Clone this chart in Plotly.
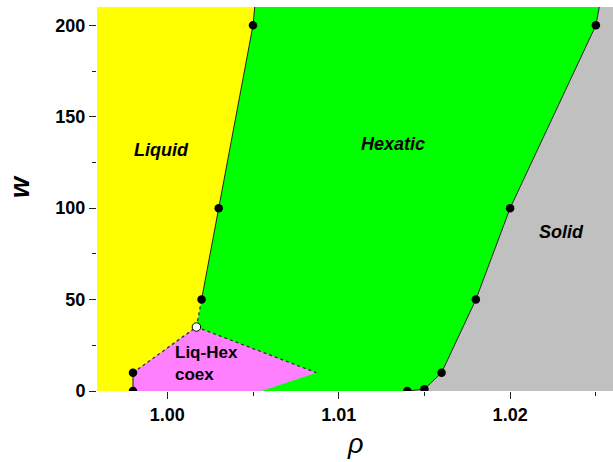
import plotly.graph_objects as go

# ---- data ----
# liquid / hexatic boundary (marked points)
liq_rho = [0.998, 0.998, 1.002, 1.003, 1.005]
liq_w = [0, 10, 50, 100, 200]
# coexistence end point (open circle)
coex_pt_rho = [1.0017]
coex_pt_w = [35]
# tip and lower end of the coexistence region
coex_tip_rho = [1.0087, 1.0055]
coex_tip_w = [10, 0]
# liquid boundary extended to the top edge
liq_top_rho = [1.0051]
# hexatic / solid boundary
sol_rho = [1.014, 1.015, 1.016, 1.018, 1.020, 1.025]
sol_w = [0, 1, 10, 50, 100, 200]
sol_top_rho = [1.0252]

X_RANGE = [0.9959, 1.026]
Y_RANGE = [0, 210]

YELLOW = "#ffff00"
GREEN = "#00ff00"
GREY = "#c0c0c0"
MAGENTA = "#ff80ff"

x0, x1 = X_RANGE
y0, y1 = Y_RANGE

# boundary of liquid phase (through coexistence end point)
liq_bx = [liq_rho[0], liq_rho[1], coex_pt_rho[0]] + liq_rho[2:] + liq_top_rho
liq_by = [liq_w[0], liq_w[1], coex_pt_w[0]] + liq_w[2:] + [y1]
sol_bx = sol_rho + sol_top_rho
sol_by = sol_w + [y1]

fig = go.Figure()

# yellow liquid region
fig.add_trace(go.Scatter(
    x=[x0] + liq_bx + [x0], y=[y0] + liq_by + [y1],
    fill="toself", fillcolor=YELLOW, line=dict(width=0), mode="lines",
    hoverinfo="skip", showlegend=False))
# green hexatic region
fig.add_trace(go.Scatter(
    x=liq_bx + sol_bx[::-1], y=liq_by + sol_by[::-1],
    fill="toself", fillcolor=GREEN, line=dict(width=0), mode="lines",
    hoverinfo="skip", showlegend=False))
# grey solid region
fig.add_trace(go.Scatter(
    x=sol_bx + [x1, x1], y=sol_by + [y1, y0],
    fill="toself", fillcolor=GREY, line=dict(width=0), mode="lines",
    hoverinfo="skip", showlegend=False))
# magenta coexistence region
fig.add_trace(go.Scatter(
    x=[liq_rho[0], liq_rho[1], coex_pt_rho[0]] + coex_tip_rho,
    y=[liq_w[0], liq_w[1], coex_pt_w[0]] + coex_tip_w,
    fill="toself", fillcolor=MAGENTA, line=dict(width=0), mode="lines",
    hoverinfo="skip", showlegend=False))

# solid boundary lines
fig.add_trace(go.Scatter(
    x=liq_rho[0:2], y=liq_w[0:2], mode="lines",
    line=dict(color="#333", width=1.2), showlegend=False, hoverinfo="skip"))
fig.add_trace(go.Scatter(
    x=liq_rho[2:] + liq_top_rho, y=liq_w[2:] + [y1], mode="lines",
    line=dict(color="#222", width=1), showlegend=False, hoverinfo="skip"))
fig.add_trace(go.Scatter(
    x=sol_bx, y=sol_by, mode="lines",
    line=dict(color="#222", width=1), showlegend=False, hoverinfo="skip"))
# dotted coexistence boundaries
fig.add_trace(go.Scatter(
    x=[liq_rho[1], coex_pt_rho[0], coex_tip_rho[0]],
    y=[liq_w[1], coex_pt_w[0], coex_tip_w[0]], mode="lines",
    line=dict(color="#333", width=1.3, dash="dot"), showlegend=False, hoverinfo="skip"))
fig.add_trace(go.Scatter(
    x=[coex_pt_rho[0], liq_rho[2]], y=[coex_pt_w[0], liq_w[2]], mode="lines",
    line=dict(color="#333", width=1.3, dash="dot"), showlegend=False, hoverinfo="skip"))

# markers
fig.add_trace(go.Scatter(
    x=liq_rho + sol_rho, y=liq_w + sol_w, mode="markers",
    marker=dict(color="black", size=8.5), showlegend=False))
fig.add_trace(go.Scatter(
    x=coex_pt_rho, y=coex_pt_w, mode="markers",
    marker=dict(color="white", size=8.5, line=dict(color="black", width=1)),
    showlegend=False))

lab_font = dict(family="Liberation Sans, Arial", size=18, color="black")
for txt, xx, yy in [("<b><i>Liquid</i></b>", 0.99965, 132),
                    ("<b><i>Hexatic</i></b>", 1.01315, 135),
                    ("<b><i>Solid</i></b>", 1.0230, 87)]:
    fig.add_annotation(x=xx, y=yy, text=txt, showarrow=False, font=lab_font,
                       xanchor="center", yanchor="middle")
fig.add_annotation(x=1.00035, y=15, text="<b>Liq-Hex<br>coex</b>", showarrow=False,
                   font=dict(family="Liberation Sans, Arial", size=17, color="black"),
                   xanchor="left", yanchor="middle", align="left")

# axis titles
fig.add_annotation(xref="paper", yref="paper", x=(20 - 97) / 516, y=(391 - 187) / 384,
                   text="<b><i>w</i></b>", textangle=-90, showarrow=False,
                   font=dict(family="Liberation Sans, Arial", size=27, color="black"),
                   xanchor="center", yanchor="middle")
fig.add_annotation(xref="paper", yref="paper", x=(355 - 97) / 516, y=-(444 - 391) / 384,
                   text="<i>ρ</i>", showarrow=False,
                   font=dict(family="Liberation Sans, Arial", size=27, color="black"),
                   xanchor="center", yanchor="middle")

tick_font = dict(family="Liberation Sans, Arial", size=18, color="black")
fig.update_xaxes(range=X_RANGE, tickvals=[1.00, 1.01, 1.02],
                 ticktext=["<b>1.00</b>", "<b>1.01</b>", "<b>1.02</b>"],
                 ticks="outside", ticklen=7, tickwidth=1, tickcolor="#222",
                 minor=dict(tickvals=[1.005, 1.015, 1.025], ticks="outside", ticklen=4,
                            tickcolor="#222", tickwidth=1),
                 showgrid=False, zeroline=False, showline=False, tickfont=tick_font)
fig.update_yaxes(range=Y_RANGE, tickvals=[0, 50, 100, 150, 200],
                 ticktext=["<b>0</b>", "<b>50</b>", "<b>100</b>", "<b>150</b>", "<b>200</b>"],
                 ticks="outside", ticklen=7, tickwidth=1, tickcolor="#222",
                 minor=dict(tickvals=[25, 75, 125, 175], ticks="outside", ticklen=4,
                            tickcolor="#222", tickwidth=1),
                 showgrid=False, zeroline=False, showline=False, tickfont=tick_font)

fig.update_layout(width=613, height=462, margin=dict(l=97, r=0, t=7, b=71),
                  plot_bgcolor="white", paper_bgcolor="white")

fig.write_html("out.html")
